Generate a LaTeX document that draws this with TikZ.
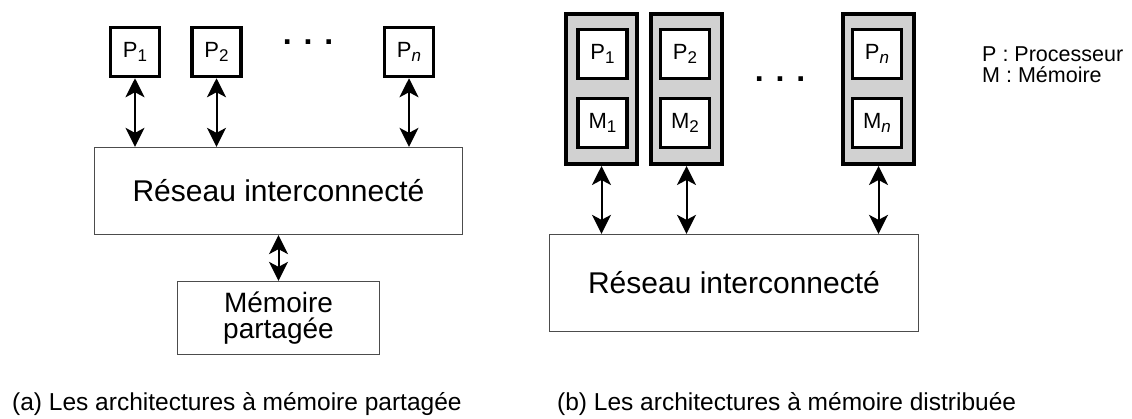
\documentclass[tikz,border=0pt]{standalone}
\usepackage{fontspec}
\setmainfont{Liberation Sans}
\usetikzlibrary{positioning,arrows.meta}

\newcommand{\ix}[1]{\raisebox{-4.5pt}{\fontsize{17}{17}\selectfont #1}}

\begin{document}
\begin{tikzpicture}[x=1pt, y=-1pt,
  box/.style = {draw, line width=3.5pt, fill=white, inner sep=0pt,
    minimum width=49pt, minimum height=49pt,
    font=\fontsize{22}{22}\selectfont},
  cell/.style = {draw, line width=4pt, fill=black!18,
    minimum width=71pt, minimum height=150pt},
  net/.style = {draw=black!70, line width=1.3pt, inner sep=0pt,
    font=\fontsize{30}{30}\selectfont},
  dots/.style = {font=\bfseries\fontsize{32}{32}\selectfont, anchor=base, inner sep=0pt},
  arr/.style = {line width=2pt, >={Stealth[length=19pt,width=19pt,inset=5pt]}, <->},
  txt/.style = {anchor=base west, inner sep=0pt}
  ]
  \useasboundingbox (0,0) rectangle (1132,418);

  % (a) memoire partagee
  \node[box] (p1) at (135,52)   {P\ix{1}};
  \node[box] (p2) at (216.5,52) {P\ix{2}};
  \node[box] (pn) at (409,52)   {P\ix{\textit{n}}};
  \node[dots] (dots-a) at (308,44) {. . .};

  \node[net, minimum width=368pt, minimum height=87pt] (net-a) at (278.5,191)
    {Réseau interconnecté};
  \node[net, minimum width=202pt, minimum height=73pt, align=center,
    font=\fontsize{28}{26}\selectfont] (mem) at (278.5,318) {Mémoire\\partagée};

  \draw[arr] (p1.south) -- (p1.south |- net-a.north);
  \draw[arr] (p2.south) -- (p2.south |- net-a.north);
  \draw[arr] (pn.south) -- (pn.south |- net-a.north);
  \draw[arr] (net-a.south) -- (mem.north);

  % (b) memoire distribuee
  \node[cell] (c1) at (601.5,89) {};
  \node[cell] (c2) at (686.5,89) {};
  \node[cell] (cn) at (878.5,89) {};
  \node[box] (q1) at (602.5,54) {P\ix{1}};
  \node[box] (m1) at (602.5,123) {M\ix{1}};
  \node[box] (q2) at (685,54) {P\ix{2}};
  \node[box] (m2) at (685,123) {M\ix{2}};
  \node[box] (qn) at (877,54) {P\ix{\textit{n}}};
  \node[box] (mn) at (877,123) {M\ix{\textit{n}}};
  \node[dots] (dots-b) at (780,81) {. . .};

  \node[net, minimum width=369pt, minimum height=97pt] (net-b) at (734,283)
    {Réseau interconnecté};

  \draw[arr] (c1.south) -- (c1.south |- net-b.north);
  \draw[arr] (c2.south) -- (c2.south |- net-b.north);
  \draw[arr] (cn.south) -- (cn.south |- net-b.north);

  % legende
  \node[txt, font=\fontsize{21.5}{21.5}\selectfont] (leg-p) at (982,61) {P : Processeur};
  \node[txt, font=\fontsize{21.5}{21.5}\selectfont] (leg-m) at (982,82) {M : Mémoire};

  % legendes des figures
  \node[txt, font=\fontsize{24.5}{24.5}\selectfont] (cap-a) at (12,410)
    {(a) Les architectures à mémoire partagée};
  \node[txt, font=\fontsize{24.5}{24.5}\selectfont] (cap-b) at (557,410)
    {(b) Les architectures à mémoire distribuée};
\end{tikzpicture}
\end{document}
